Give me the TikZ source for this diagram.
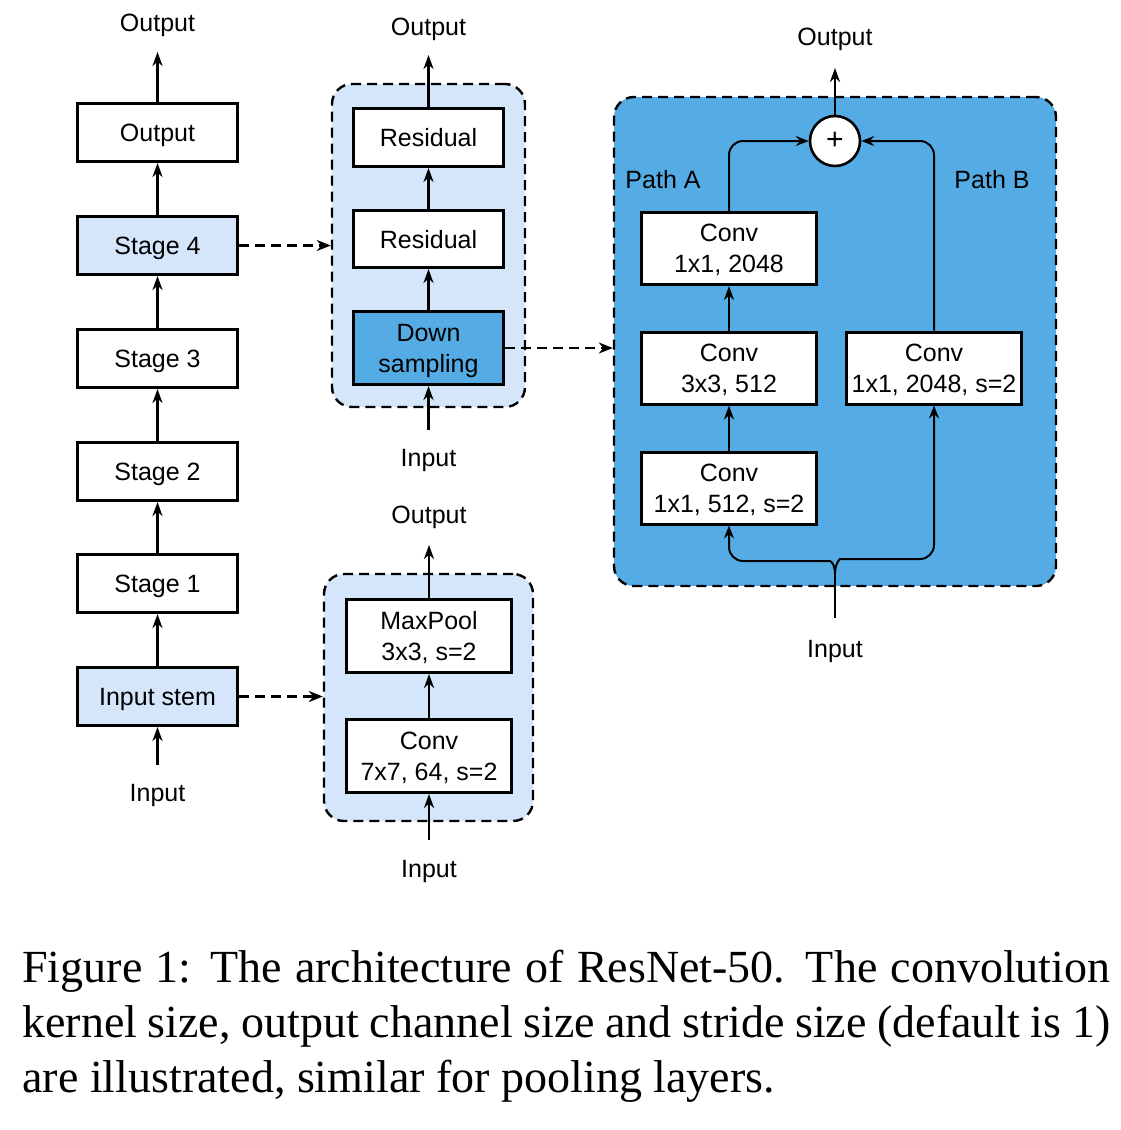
\documentclass[tikz,border=0pt]{standalone}
\usepackage{fontspec}
\setmainfont{Liberation Serif}
\setsansfont{Liberation Sans}
\usetikzlibrary{arrows.meta}
\definecolor{paleblue}{RGB}{213,230,251}
\definecolor{deepblue}{RGB}{85,172,229}

\begin{document}
\begin{tikzpicture}[x=0.5pt, y=-0.5pt,
    box/.style={draw, line width=1.5pt, fill=white, minimum width=80pt, minimum height=29pt, inner sep=0pt, text depth=0pt, align=center, font=\sffamily\fontsize{12.5}{15.5}\selectfont},
    lbl/.style={anchor=base, inner sep=0pt, font=\sffamily\fontsize{12.5}{15}\selectfont},
    grp/.style={draw, line width=1.2pt, dash pattern=on 5pt off 3pt, rounded corners=10pt, inner sep=0pt},
    arr/.style={line width=1.4pt, -{Stealth[length=7pt, width=5pt, inset=2.2pt]}},
    thinarr/.style={line width=1pt, -{Stealth[length=6.5pt, width=5pt, inset=2.2pt]}},
    dasharr/.style={line width=1.2pt, dash pattern=on 5pt off 3pt, -{Stealth[length=7pt, width=5.5pt, inset=2.2pt]}}]
\useasboundingbox (0,0) rectangle (1120,1130);

\node[box] (out) at (157.5,132.5) {Output};
\node[box, fill=paleblue] (stage4) at (157.5,245.5) {Stage 4};
\node[box] (stage3) at (157.5,358.5) {Stage 3};
\node[box] (stage2) at (157.5,471.5) {Stage 2};
\node[box] (stage1) at (157.5,583.5) {Stage 1};
\node[box, fill=paleblue] (stem) at (157.5,696.5) {Input stem};
\node[lbl] (outlbl) at (157.5,31) {Output};
\node[lbl] (inlbl) at (157.5,801) {Input};
\coordinate (outtip) at (157.5,52);
\coordinate (instart) at (157.5,765);

\node[grp, fill=paleblue, minimum width=96.5pt, minimum height=161.5pt] (grpstage) at (428.5,245.5) {};
\node[box, minimum width=75pt] (res2) at (428.5,137.5) {Residual};
\node[box, minimum width=75pt, minimum height=28.5pt] (res1) at (428.5,239) {Residual};
\node[box, minimum width=75pt, minimum height=36.5pt, fill=deepblue] (down) at (428.5,348) {Down\\sampling};
\node[lbl] (stoutlbl) at (428.5,35) {Output};
\node[lbl] (stinlbl) at (428.5,466) {Input};
\coordinate (stouttip) at (428.5,55);
\coordinate (stinstart) at (428.5,430);

\node[grp, fill=paleblue, minimum width=104.5pt, minimum height=123.5pt] (grpstem) at (428.5,697.5) {};
\node[box, minimum width=82.5pt, minimum height=36.5pt] (pool) at (429,636) {MaxPool\\3x3, s=2};
\node[box, minimum width=82.5pt, minimum height=36.5pt] (conv7) at (429,756) {Conv\\7x7, 64, s=2};
\node[lbl] (poutlbl) at (429,523) {Output};
\node[lbl] (pinlbl) at (429,877) {Input};
\coordinate (pouttip) at (429,545);
\coordinate (pinstart) at (429,840);

\node[grp, fill=deepblue, minimum width=221pt, minimum height=244.5pt] (grpblock) at (835,341.5) {};
\node[box, minimum width=87.5pt, minimum height=36pt] (convA3) at (729,248.5) {Conv\\1x1, 2048};
\node[box, minimum width=87.5pt, minimum height=36pt] (convA2) at (729,368) {Conv\\3x3, 512};
\node[box, minimum width=87.5pt, minimum height=36pt] (convA1) at (729,488) {Conv\\1x1, 512, s=2};
\node[box, minimum width=87.5pt, minimum height=36pt] (convB) at (934,368) {Conv\\1x1,\ 2048,\ s=2};
\node[circle, draw, fill=white, line width=1.3pt, minimum size=25pt, inner sep=0pt, font=\sffamily\fontsize{15}{15}\selectfont] (plus) at (835,141) {+};
\node[lbl] (patha) at (663,188) {Path A};
\node[lbl] (pathb) at (992,188) {Path B};
\node[lbl] (boutlbl) at (835,45) {Output};
\node[lbl] (binlbl) at (835,657) {Input};
\coordinate (bouttip) at (835,68);
\coordinate (binstart) at (835,618);
\coordinate (split) at (835,574);

\draw[arr] (instart) -- (stem);
\foreach \a/\b in {stem/stage1,stage1/stage2,stage2/stage3,stage3/stage4,stage4/out}
  \draw[arr] (\a) -- (\b);
\draw[arr] (out) -- (outtip);

\draw[arr] (stinstart) -- (down);
\draw[arr] (down) -- (res1);
\draw[arr] (res1) -- (res2);
\draw[arr] (res2) -- (stouttip);

\draw[arr] (pinstart) -- (conv7);
\draw[arr] (conv7) -- (pool);
\draw[arr] (pool) -- (pouttip);

\draw[dasharr] (stage4) -- (grpstage);
\draw[dasharr] (stem.east) -- (stem.east -| grpstem.west);
\draw[dasharr] (down.east) -- (down.east -| grpblock.west);

\draw[arr] (convA1) -- (convA2);
\draw[arr] (convA2) -- (convA3);
\draw[thinarr, rounded corners=7pt] (convA3.north) |- (plus.west);
\draw[thinarr, rounded corners=7pt] (convB.north) |- (plus.east);
\draw[arr] (plus) -- (bouttip);
\draw[line width=1.4pt] (binstart) -- (split);
\draw[thinarr, rounded corners=7pt] (split) .. controls (835,563) and (830,561) .. (816,561) -- (729,561) -- (convA1.south);
\draw[thinarr, rounded corners=7pt] (split) .. controls (835,563) and (840,559) .. (854,559) -- (934,559) -- (convB.south);

\node[anchor=north west, inner sep=0pt, text width=544pt, align=justify, font=\rmfamily\fontsize{23}{27.5}\selectfont] (caption) at (22,950) {Figure 1: The architecture of ResNet-50. The convolution\linebreak kernel size, output channel size and stride size (default is 1)\linebreak are illustrated, similar for pooling layers.};

\end{tikzpicture}
\end{document}
